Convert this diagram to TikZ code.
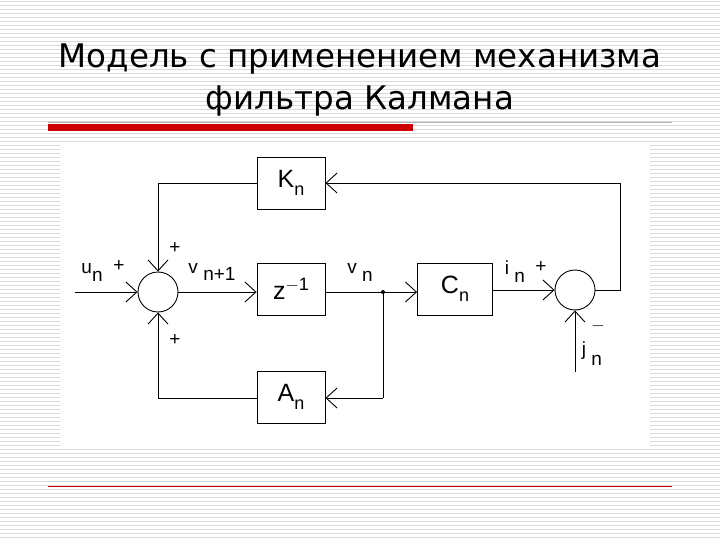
\documentclass[tikz,border=0pt]{standalone}
\usepackage{fontspec}
\setmainfont{DejaVu Sans}
\newfontfamily\lab{Liberation Sans}
\usetikzlibrary{arrows.meta}
\begin{document}
\begin{tikzpicture}[x=1pt,y=-1pt,
  blk/.style={draw,line width=0.9pt,minimum width=68pt,minimum height=52pt,font=\lab\fontsize{25}{25}\selectfont},
  sum/.style={draw,circle,line width=0.9pt,minimum size=40pt,inner sep=0pt},
  ln/.style={line width=0.9pt},
  arr/.style={ln,-{Straight Barb[length=11pt,width=20pt,line width=0.9pt]}},
  lbl/.style={font=\lab\fontsize{19}{19}\selectfont,inner sep=0pt}]
\useasboundingbox (0,0) rectangle (720,540);
\fill[white] (0,0) rectangle (720,540);
\foreach \i in {0,...,134} {\draw[gray!30,line width=0.6pt] (0,\i*4+1) -- (720,\i*4+1);}
\fill[white] (60,145) rectangle (650,446);
\node[font=\fontsize{32.5}{42}\selectfont,align=center] (title) at (360,80) {Модель с применением механизма\\фильтра Калмана};
\draw[gray!60,line width=0.8pt] (48,122) -- (672,122);
\fill[red!80!black] (48,124) rectangle (413,131);
\draw[red!80!black,line width=0.8pt] (48,486) -- (672,486);
% blocks
\node[blk] (K) at (291,183) {K\raisebox{-8pt}{\fontsize{18}{18}\selectfont n}};
\node[blk] (Z) at (291,289) {z\raisebox{9pt}{\fontsize{18}{18}\selectfont $-$1}};
\node[blk] (A) at (291,397) {A\raisebox{-8pt}{\fontsize{18}{18}\selectfont n}};
\node[blk,minimum width=75pt] (C) at (455,289) {C\raisebox{-8pt}{\fontsize{18}{18}\selectfont n}};
\node[sum] (S1) at (158,292) {};
\node[sum] (S2) at (575,290) {};
\coordinate (J) at (383,292);
\coordinate (U) at (75,292);
\coordinate (JN) at (575,372);
\coordinate (R) at (620,290);
\coordinate (RT) at (620,183);
\coordinate (LT) at (158,183);
\coordinate (LB) at (158,398);
\coordinate (AB) at (383,398);
\fill (J) circle (2pt);
% connectors
\draw[arr] (U) -- (S1.west);
\draw[arr] (S1.east) -- (Z.west|-S1.east);
\draw[ln] (Z.east|-J) -- (J);
\draw[arr] (J) -- (C.west|-J);
\draw[arr] (C.east|-S2) -- (S2.west);
\draw[arr] (JN) -- (S2.south);
\draw[ln] (S2.east) -- (R) -- (RT);
\draw[arr] (RT) -- (K.east);
\draw[ln] (K.west) -- (LT);
\draw[arr] (LT) -- (S1.north);
\draw[ln] (J) -- (AB);
\draw[arr] (AB) -- (A.east|-AB);
\draw[ln] (A.west|-LB) -- (LB);
\draw[arr] (LB) -- (S1.south);
% labels
\node[lbl] (lu) at (92,272) {u\raisebox{-8pt}{n}};
\node[lbl] (pu) at (119,266) {+};
\node[lbl] (pt) at (175,248) {+};
\node[lbl] (pb) at (175,340) {+};
\node[lbl] (lv1) at (212,272) {v\raisebox{-7pt}{ n+1}};
\node[lbl] (lv) at (360,272) {v\raisebox{-8pt}{ n}};
\node[lbl] (li) at (515,272) {i\raisebox{-8pt}{ n}};
\node[lbl] (pi) at (541,267) {+};
\node[lbl] (mi) at (598,326) {$-$};
\node[lbl] (lj) at (592,354) {j\raisebox{-10pt}{ n}};
\end{tikzpicture}
\end{document}
